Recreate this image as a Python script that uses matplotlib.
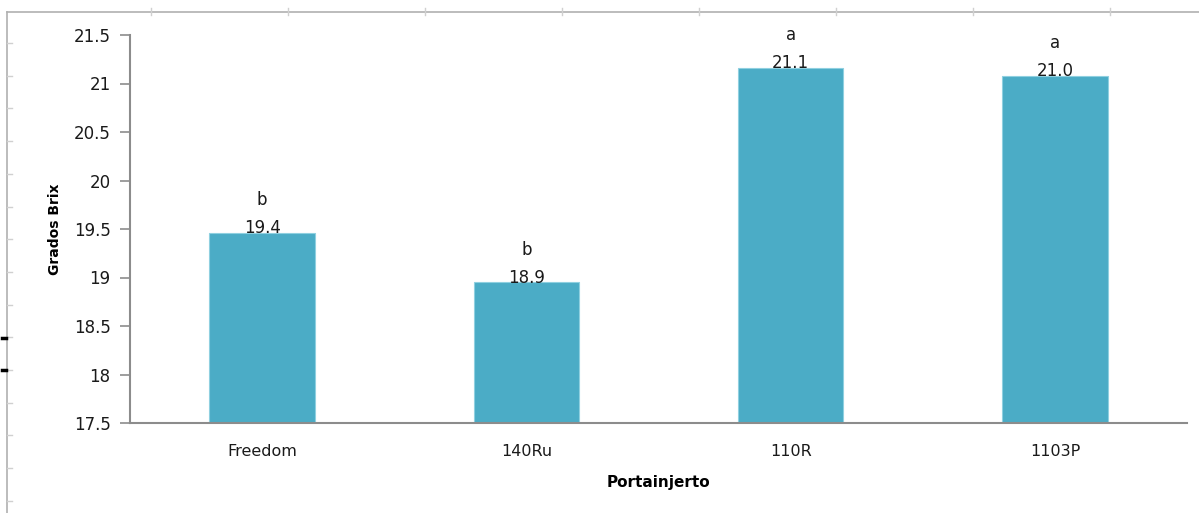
import math
import numpy as np
from matplotlib import pyplot as plt
from matplotlib.lines import Line2D

# Grados Brix por portainjerto
portainjertos = ['Freedom', '140Ru', '110R', '1103P']
brix = [19.46, 18.95, 21.16, 21.08]
letras = ['b', 'b', 'a', 'a']

bar_color = '#4BACC6'
axis_gray = '#8c8c8c'

fig = plt.figure(figsize=(11.99, 5.13), dpi=100)
ax = fig.add_axes([130 / 1199, 1 - 423 / 513, 1057 / 1199, 388 / 513])

x = np.arange(len(portainjertos))
ax.bar(x, brix, width=0.40, color=bar_color, edgecolor='#8fd0e0', linewidth=0.8, zorder=2)

for xi, v, let in zip(x, brix, letras):
    lbl = '%.1f' % (math.floor(v * 10) / 10)
    ax.annotate(lbl, (xi, v), xytext=(0, -3), textcoords='offset points',
                ha='center', va='bottom', fontsize=12, color='#1a1a1a', zorder=3)
    ax.annotate(let, (xi, v), xytext=(0, 17), textcoords='offset points',
                ha='center', va='bottom', fontsize=12, color='#1a1a1a')

ax.set_xlim(-0.5, 3.5)
ax.set_ylim(17.5, 21.5)
ax.set_yticks(np.arange(17.5, 21.51, 0.5))
ax.set_yticklabels(['%g' % t for t in np.arange(17.5, 21.51, 0.5)])
ax.set_xticks(x)
ax.set_xticklabels(portainjertos)

for s in ['top', 'right']:
    ax.spines[s].set_visible(False)
for s in ['left', 'bottom']:
    ax.spines[s].set_color(axis_gray)
    ax.spines[s].set_linewidth(1.5)
ax.tick_params(axis='y', direction='out', length=7, width=1.2, color=axis_gray,
               labelsize=12, labelcolor='#1a1a1a', pad=7)
ax.tick_params(axis='x', length=0, labelsize=11.5, labelcolor='#1a1a1a', pad=15)

ax.set_ylabel('Grados Brix', fontsize=10, fontweight='bold', labelpad=8)
ax.set_xlabel('Portainjerto', fontsize=11, fontweight='bold', labelpad=12)

# marco de la hoja alrededor del grafico
W, H = 1199, 513
def px_line(x0, y0, x1, y1, color='#b0b0b0', lw=1.2):
    fig.add_artist(Line2D([x0 / W, x1 / W], [1 - y0 / H, 1 - y1 / H],
                          transform=fig.transFigure, color=color, linewidth=lw))

px_line(7, 12, W, 12)
px_line(7, 12, 7, H)
for tx in np.arange(151, W, 137):
    px_line(tx, 8, tx, 15, color='#d0d0d0', lw=1)
for ty in np.arange(43, H, 32.7):
    px_line(7, ty, 12, ty, color='#d0d0d0', lw=1)
for ty in [338, 370]:
    px_line(2, ty, 6, ty, color='black', lw=2.5)

plt.savefig('out.png', dpi=100)
